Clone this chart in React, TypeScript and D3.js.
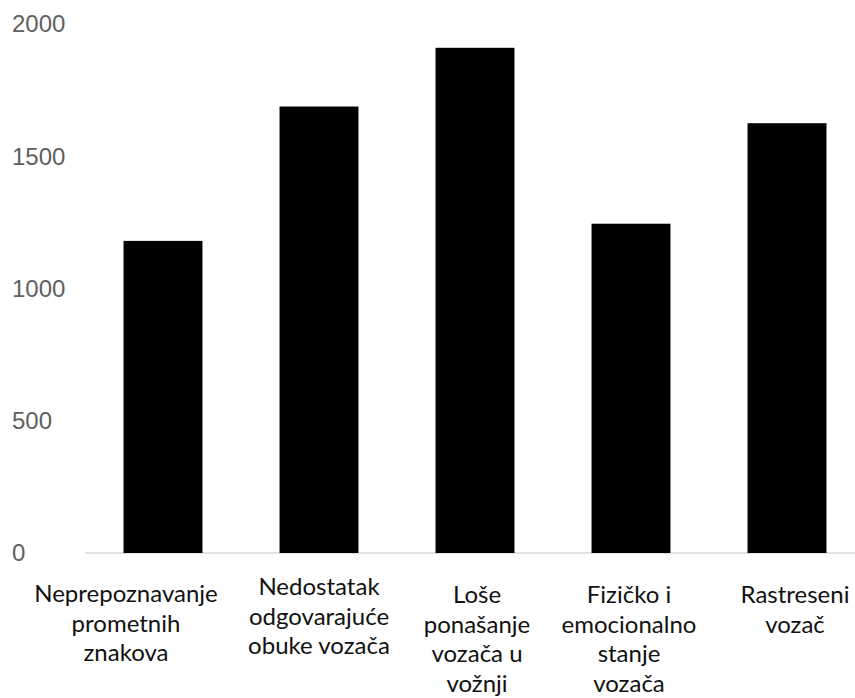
import React from "react";
import * as d3 from "d3";

const categories: string[][] = [
  ["Neprepoznavanje", "prometnih", "znakova"],
  ["Nedostatak", "odgovarajuće", "obuke vozača"],
  ["Loše", "ponašanje", "vozača u", "vožnji"],
  ["Fizičko i", "emocionalno", "stanje", "vozača"],
  ["Rastreseni", "vozač"],
];
const values: number[] = [1180, 1688, 1910, 1245, 1625];
const yTicks: number[] = [0, 500, 1000, 1500, 2000];

// layout tweaks for wrapped category labels (offset from band centre, first baseline)
const labelDx = [-37, 0, 2, -2, 8];
const labelY = [602, 595, 603, 603, 603];

const W = 855;
const H = 698;

export default function App() {
  const keys = categories.map((_, i) => String(i));
  const x = d3
    .scaleBand<string>()
    .domain(keys)
    .range([85, 865])
    .paddingInner(0.494)
    .paddingOuter(0.247);
  const y = d3.scaleLinear().domain([0, 2000]).range([553, 24]);

  return (
    <svg
      width={W}
      height={H}
      style={{ position: "absolute", left: 0, top: 0, background: "#fff" }}
    >
      <rect x={0} y={0} width={W} height={H} fill="#fff" />
      {yTicks.map((t) => (
        <text
          key={t}
          x={12}
          y={y(t)}
          dy="0.35em"
          fontFamily="'Liberation Sans', Arial, sans-serif"
          fontSize={24}
          fill="#606060"
        >
          {t}
        </text>
      ))}
      <line x1={85} x2={W} y1={y(0)} y2={y(0)} stroke="#d9d9d9" strokeWidth={1.5} />
      {values.map((v, i) => (
        <rect
          key={i}
          x={x(String(i))!}
          y={y(v)}
          width={x.bandwidth()}
          height={y(0) - y(v)}
          fill="#000"
        />
      ))}
      {categories.map((lines, i) => {
        const cx = x(String(i))! + x.bandwidth() / 2 + labelDx[i];
        return (
          <text
            key={i}
            x={cx}
            y={labelY[i]}
            textAnchor="middle"
            fontFamily="Lato, 'Open Sans', sans-serif"
            fontSize={24}
            fill="#111"
          >
            {lines.map((l, k) => (
              <tspan key={k} x={cx} dy={k === 0 ? 0 : 29.5}>
                {l}
              </tspan>
            ))}
          </text>
        );
      })}
    </svg>
  );
}
